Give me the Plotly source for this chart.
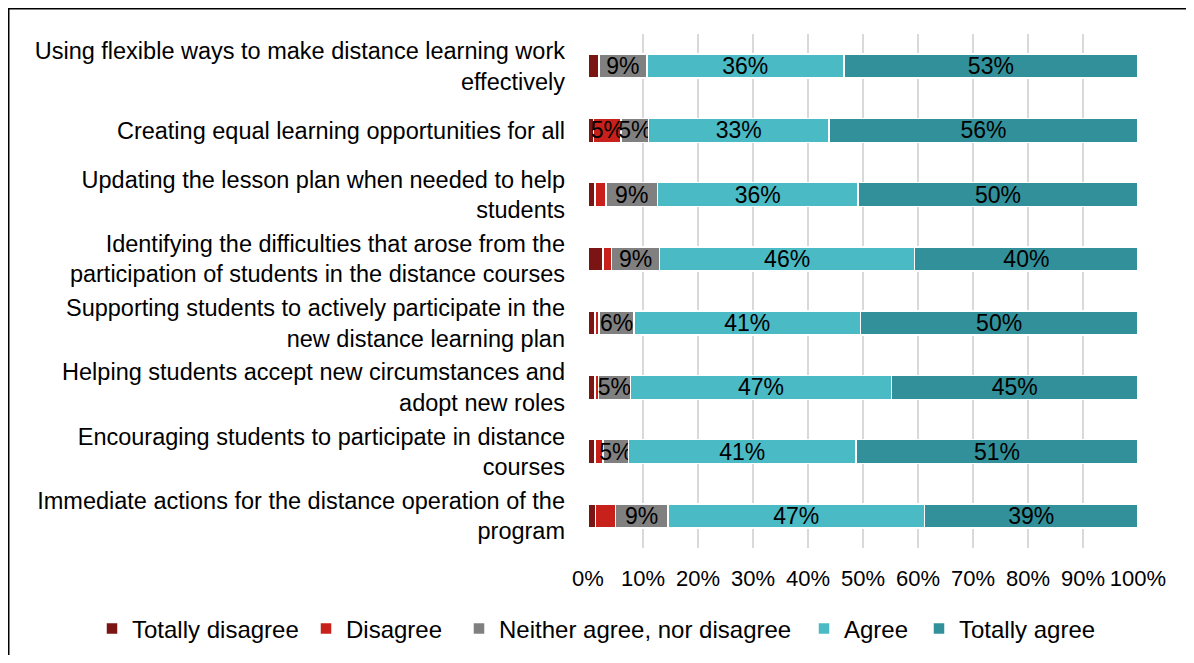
import plotly.graph_objects as go

categories = [
    "Using flexible ways to make distance learning work<br>effectively",
    "Creating equal learning opportunities for all",
    "Updating the lesson plan when needed to help<br>students",
    "Identifying the difficulties that arose from the<br>participation of students in the distance courses",
    "Supporting students to actively participate in the<br>new distance learning plan",
    "Helping students accept new circumstances and<br>adopt new roles",
    "Encouraging students to participate in distance<br>courses",
    "Immediate actions for the distance operation of the<br>program",
]

series_names = ["Totally disagree", "Disagree", "Neither agree, nor disagree", "Agree", "Totally agree"]
colors = ["#7B1513", "#C8201A", "#808080", "#4ABAC5", "#31909A"]

totally_disagree = [2.0, 1.0, 1.3, 2.7, 1.3, 1.3, 1.3, 1.4]
disagree = [0.0, 5.0, 2.0, 1.6, 0.7, 0.6, 1.4, 3.6]
neither = [8.7, 5.0, 9.3, 8.7, 6.4, 5.8, 4.7, 9.5]
agree = [35.8, 32.8, 36.5, 46.4, 41.1, 47.5, 41.3, 46.7]
totally_agree = [53.5, 56.2, 50.9, 40.6, 50.5, 44.8, 51.3, 38.8]

labels_td = ["", "", "", "", "", "", "", ""]
labels_d = ["", "5%", "", "", "", "", "", ""]
labels_n = ["9%", "5%", "9%", "9%", "6%", "5%", "5%", "9%"]
labels_a = ["36%", "33%", "36%", "46%", "41%", "47%", "41%", "47%"]
labels_ta = ["53%", "56%", "50%", "40%", "50%", "45%", "51%", "39%"]

x_ticks = [0, 10, 20, 30, 40, 50, 60, 70, 80, 90, 100]
x_ticktext = ["0%", "10%", "20%", "30%", "40%", "50%", "60%", "70%", "80%", "90%", "100%"]

values = [totally_disagree, disagree, neither, agree, totally_agree]
texts = [labels_td, labels_d, labels_n, labels_a, labels_ta]

FONT = "Liberation Sans, Arial, sans-serif"

# page body has an 8px margin: figure pixel = page pixel - 8
W, H = 1186, 647
L, T = 580, 26
pw, ph = 550, 514
R, B = W - L - pw, H - T - ph

def px2x(px):
    return (px - L) / pw

def py2y(py):
    return (T + ph - py) / ph

legend_ids = ["legend", "legend2", "legend3", "legend4", "legend5"]
legend_left = [84, 298, 451, 796, 911]

fig = go.Figure()
for name, color, vals, txt, lid in zip(series_names, colors, values, texts, legend_ids):
    fig.add_trace(go.Bar(
        name=name,
        y=categories,
        x=vals,
        orientation="h",
        marker=dict(color=color, line=dict(color="white", width=1.5)),
        text=txt,
        textposition="inside",
        insidetextanchor="middle",
        constraintext="none",
        textangle=0,
        textfont=dict(size=23, color="black", family=FONT),
        hoverinfo="x+name",
        legend=lid,
        showlegend=True,
    ))

legends = {}
for lid, lx in zip(legend_ids, legend_left):
    legends[lid] = dict(
        orientation="h",
        x=px2x(lx), xanchor="left",
        y=py2y(621), yanchor="middle",
        font=dict(size=24, family=FONT, color="black"),
        itemwidth=30,
        bgcolor="rgba(0,0,0,0)",
        visible=True,
    )

fig.update_layout(
    width=W, height=H,
    showlegend=True,
    barmode="stack",
    barnorm="percent",
    bargap=0.63,
    plot_bgcolor="white",
    paper_bgcolor="white",
    margin=dict(l=L, r=R, t=T, b=B, autoexpand=False),
    font=dict(family=FONT, size=22, color="black"),
    xaxis=dict(
        range=[0, 100],
        tickvals=x_ticks,
        ticktext=x_ticktext,
        showgrid=True,
        gridcolor="#D9D9D9",
        gridwidth=2,
        zeroline=False,
        showline=False,
        tickfont=dict(size=22, family=FONT, color="black"),
        ticks="",
        ticklabelstandoff=15,
        fixedrange=True,
    ),
    yaxis=dict(
        autorange="reversed",
        showgrid=False,
        showline=False,
        ticks="",
        ticklabelstandoff=22,
        tickfont=dict(size=23.5, family=FONT, color="black"),
    ),
    shapes=[dict(
        type="rect", xref="paper", yref="paper",
        x0=px2x(0.5), x1=px2x(1300),
        y0=py2y(700), y1=py2y(0.5),
        line=dict(color="black", width=2),
        fillcolor="rgba(0,0,0,0)",
        layer="above",
    )],
    **legends,
)

fig.write_html("out.html")
